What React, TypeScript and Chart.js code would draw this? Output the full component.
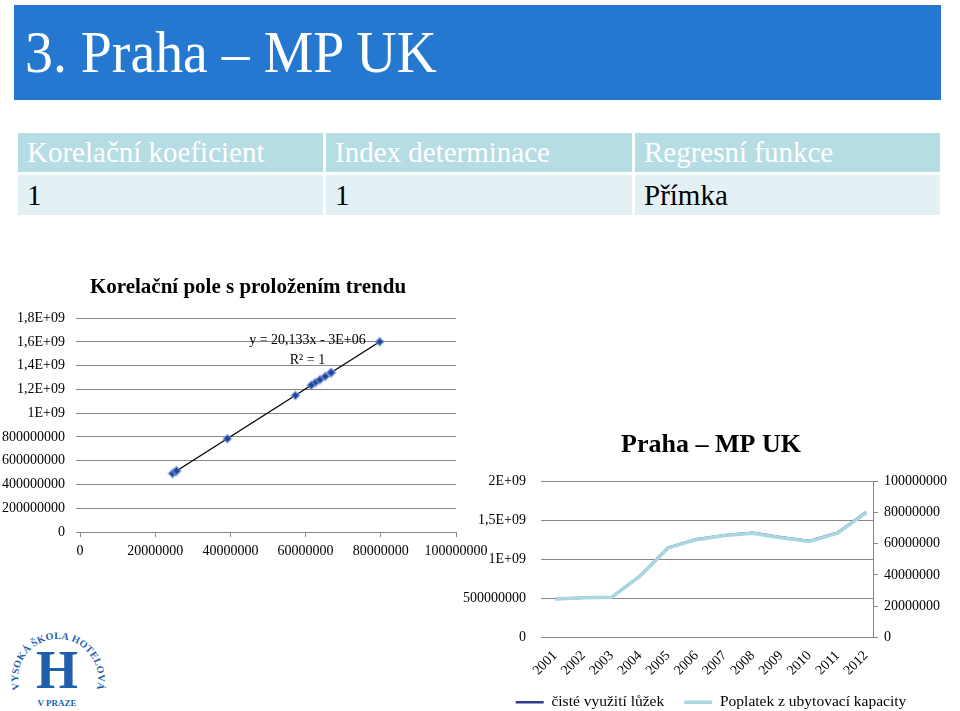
import React, { useEffect, useRef } from "react";
import { Chart, registerables } from "chart.js";

Chart.register(...registerables);

const SERIF = '"Liberation Serif", "Times New Roman", serif';

// ---- data ----
const years = ["2001", "2002", "2003", "2004", "2005", "2006", "2007", "2008", "2009", "2010", "2011", "2012"];
const cisteVyuziti = [492e6, 510e6, 515e6, 786e6, 1150e6, 1258e6, 1310e6, 1340e6, 1282e6, 1235e6, 1342e6, 1602e6];
const poplatek = [24.6e6, 25.5e6, 25.7e6, 39.2e6, 57.3e6, 62.6e6, 65.2e6, 66.7e6, 63.8e6, 61.5e6, 66.8e6, 79.7e6];

const scatterXTicks = ["0", "20000000", "40000000", "60000000", "80000000", "100000000"];
const scatterYTicks = ["0", "200000000", "400000000", "600000000", "800000000", "1E+09", "1,2E+09", "1,4E+09", "1,6E+09", "1,8E+09"];
const lineLeftTicks = ["0", "500000000", "1E+09", "1,5E+09", "2E+09"];
const lineRightTicks = ["0", "20000000", "40000000", "60000000", "80000000", "100000000"];

const tableHeaders = ["Korelační koeficient", "Index determinace", "Regresní funkce"];
const tableValues = ["1", "1", "Přímka"];

const slideTitle = "3. Praha – MP UK";
const scatterTitle = "Korelační pole s proložením trendu";
const lineTitle = "Praha – MP UK";
const seriesNames = ["čisté využití lůžek", "Poplatek z ubytovací kapacity"];
const trendEquation = "y = 20,133x - 3E+06";
const trendR2 = "R² = 1";

function linearFit(xs: number[], ys: number[]) {
  const n = xs.length;
  const mx = xs.reduce((a, b) => a + b, 0) / n;
  const my = ys.reduce((a, b) => a + b, 0) / n;
  let sxy = 0;
  let sxx = 0;
  for (let i = 0; i < n; i++) {
    sxy += (xs[i] - mx) * (ys[i] - my);
    sxx += (xs[i] - mx) * (xs[i] - mx);
  }
  const slope = sxy / sxx;
  return { slope, intercept: my - slope * mx };
}

const GRID = "#868686";

export default function App() {
  const scatterRef = useRef<HTMLCanvasElement>(null);
  const lineRef = useRef<HTMLCanvasElement>(null);

  useEffect(() => {
    const fit = linearFit(poplatek, cisteVyuziti);
    const xMin = Math.min(...poplatek);
    const xMax = Math.max(...poplatek);

    const trendLabel = {
      id: "trendLabel",
      afterDatasetsDraw(chart: any) {
        const { ctx, scales } = chart;
        const x = scales.x;
        const y = scales.y;
        ctx.save();
        ctx.font = `14px ${SERIF}`;
        ctx.fillStyle = "#000";
        ctx.textAlign = "center";
        ctx.textBaseline = "middle";
        const px = x.getPixelForValue(60.5e6);
        ctx.fillText(trendEquation, px, y.getPixelForValue(1.612e9));
        ctx.fillText(trendR2, px, y.getPixelForValue(1.449e9));
        ctx.restore();
      },
    };

    const tickFont = { family: SERIF, size: 14 };

    const c1 = new Chart(scatterRef.current!, {
      type: "scatter",
      data: {
        datasets: [
          {
            type: "line",
            data: [
              { x: xMin, y: fit.intercept + fit.slope * xMin },
              { x: xMax, y: fit.intercept + fit.slope * xMax },
            ],
            borderColor: "#000",
            borderWidth: 1.3,
            pointRadius: 0,
            order: 2,
          } as any,
          {
            data: poplatek.map((x, i) => ({ x, y: cisteVyuziti[i] })),
            pointStyle: "rectRot",
            pointRadius: 4,
            backgroundColor: "#233f96",
            borderColor: "rgba(110,150,225,0.5)",
            borderWidth: 2,
            order: 1,
          },
        ],
      },
      options: {
        animation: false,
        responsive: false,
        maintainAspectRatio: false,
        layout: { padding: 0 },
        plugins: {
          legend: { display: false },
          tooltip: { enabled: false },
          title: {
            display: true,
            text: scatterTitle,
            font: { family: SERIF, size: 21, weight: "bold" },
            color: "#000",
            padding: { top: 7, bottom: 18 },
          },
        },
        scales: {
          x: {
            type: "linear",
            min: 0,
            max: 1e8,
            ticks: {
              stepSize: 2e7,
              callback: (_v: any, i: number) => scatterXTicks[i],
              font: tickFont,
              color: "#000",
              maxRotation: 0,
              padding: 6,
            },
            grid: { drawOnChartArea: false, drawTicks: true, tickLength: 5, color: GRID },
            border: { color: GRID },
            afterFit: (s: any) => {
              s.height = 36;
              s.paddingRight = 40;
              s.paddingLeft = 0;
            },
          },
          y: {
            min: 0,
            max: 1.8e9,
            ticks: {
              stepSize: 2e8,
              callback: (_v: any, i: number) => scatterYTicks[i],
              font: tickFont,
              color: "#000",
              padding: 11,
            },
            grid: { color: GRID, tickLength: 4 },
            border: { display: false },
            afterFit: (s: any) => {
              s.width = 80;
            },
          },
        },
      } as any,
      plugins: [trendLabel],
    });

    const c2 = new Chart(lineRef.current!, {
      type: "line",
      data: {
        datasets: [
          {
            label: seriesNames[0],
            data: cisteVyuziti.map((v, i) => ({ x: i, y: v })),
            yAxisID: "y",
            borderColor: "#2e3b8f",
            backgroundColor: "#2e3b8f",
            borderWidth: 2.5,
            pointRadius: 0,
            order: 2,
          },
          {
            label: seriesNames[1],
            data: poplatek.map((v, i) => ({ x: i, y: v })),
            yAxisID: "y1",
            borderColor: "#a8d7df",
            backgroundColor: "#a8d7df",
            borderWidth: 3.5,
            pointRadius: 0,
            order: 1,
          },
        ],
      },
      options: {
        animation: false,
        responsive: false,
        maintainAspectRatio: false,
        layout: { padding: 0 },
        plugins: {
          title: {
            display: true,
            text: lineTitle,
            font: { family: SERIF, size: 26, weight: "bold" },
            color: "#000",
            padding: { top: 5, bottom: 20 },
          },
          legend: {
            position: "bottom",
            labels: {
              usePointStyle: true,
              pointStyle: "line",
              pointStyleWidth: 28,
              font: { family: SERIF, size: 15.5 },
              color: "#000",
              padding: 20,
              sort: (a: any, b: any) => a.datasetIndex - b.datasetIndex,
            },
          },
          tooltip: { enabled: false },
        },
        scales: {
          x: {
            type: "linear",
            min: -0.5,
            max: 11.25,
            ticks: {
              stepSize: 1,
              includeBounds: false,
              autoSkip: false,
              maxRotation: 45,
              minRotation: 45,
              callback: (v: any) => (Number.isInteger(v) && years[v] !== undefined ? years[v] : ""),
              font: tickFont,
              color: "#000",
              padding: 10,
            },
            grid: { display: false, drawTicks: false },
            border: { display: false },
            afterFit: (s: any) => {
              s.height = 37;
            },
          },
          y: {
            position: "left",
            min: 0,
            max: 2e9,
            ticks: {
              stepSize: 5e8,
              callback: (_v: any, i: number) => lineLeftTicks[i],
              font: tickFont,
              color: "#000",
              padding: 15,
            },
            grid: { color: GRID, drawTicks: false },
            border: { display: false },
            afterFit: (s: any) => {
              s.width = 79;
            },
          },
          y1: {
            position: "right",
            min: 0,
            max: 1e8,
            ticks: {
              stepSize: 2e7,
              callback: (_v: any, i: number) => lineRightTicks[i],
              font: tickFont,
              color: "#000",
              padding: 6,
            },
            grid: { drawOnChartArea: false, color: GRID, tickLength: 5 },
            border: { display: true, color: GRID },
            afterFit: (s: any) => {
              s.width = 87;
            },
          },
        },
      } as any,
    });

    return () => {
      c1.destroy();
      c2.destroy();
    };
  }, []);

  const colLefts = [18, 326, 635];
  const colWidths = [305, 306, 305];

  return (
    <div
      style={{
        position: "absolute",
        left: 0,
        top: 0,
        width: 960,
        height: 711,
        overflow: "hidden",
        background: "#fff",
        fontFamily: SERIF,
      }}
    >
      <div style={{ position: "absolute", left: 14, top: 5, width: 927, height: 95, background: "#2478d0" }} />
      <div
        style={{
          position: "absolute",
          left: 25,
          top: 22,
          fontSize: 60,
          lineHeight: 1,
          color: "#fff",
          whiteSpace: "nowrap",
          transform: "scaleX(0.93)",
          transformOrigin: "left top",
        }}
      >
        {slideTitle}
      </div>

      {tableHeaders.map((h, i) => (
        <div
          key={"h" + i}
          style={{
            position: "absolute",
            left: colLefts[i],
            top: 133,
            width: colWidths[i],
            height: 39,
            background: "#b7dde4",
            color: "#fff",
            fontSize: 29,
            display: "flex",
            alignItems: "center",
            paddingLeft: 9,
            boxSizing: "border-box",
            whiteSpace: "nowrap",
          }}
        >
          {h}
        </div>
      ))}
      {tableValues.map((v, i) => (
        <div
          key={"v" + i}
          style={{
            position: "absolute",
            left: colLefts[i],
            top: 175,
            width: colWidths[i],
            height: 40,
            background: "#e4f1f4",
            color: "#000",
            fontSize: 29,
            display: "flex",
            alignItems: "center",
            paddingLeft: 9,
            boxSizing: "border-box",
            whiteSpace: "nowrap",
          }}
        >
          {v}
        </div>
      ))}

      <canvas
        ref={scatterRef}
        width={496}
        height={300}
        style={{ position: "absolute", left: 0, top: 268, width: 496, height: 300 }}
      />
      <canvas
        ref={lineRef}
        width={498}
        height={295}
        style={{ position: "absolute", left: 462, top: 425, width: 498, height: 295 }}
      />

      <svg width={120} height={91} style={{ position: "absolute", left: 0, top: 620 }}>
        <defs>
          <path id="logoArc" d="M 24,80 A 40,40 0 1,1 92,80" />
        </defs>
        <text fontSize={10} fontWeight="bold" fill="#1f5fae" fontFamily={SERIF} letterSpacing={0.3}>
          <textPath href="#logoArc" startOffset="50%" textAnchor="middle">
            VYSOKÁ ŠKOLA HOTELOVÁ
          </textPath>
        </text>
        <text x={57} y={68} fontSize={54} fontWeight="bold" fill="#1f5fae" fontFamily={SERIF} textAnchor="middle">
          H
        </text>
        <text x={57} y={86} fontSize={9} fontWeight="bold" fill="#1f5fae" fontFamily={SERIF} textAnchor="middle">
          V PRAZE
        </text>
      </svg>
    </div>
  );
}
